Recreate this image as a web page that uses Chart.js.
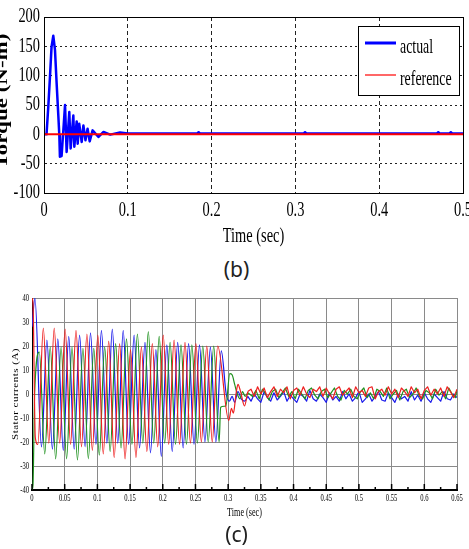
<!DOCTYPE html>
<html>
<head>
<meta charset="utf-8">
<script src="https://cdn.jsdelivr.net/npm/chart.js@4.4.0/dist/chart.umd.min.js"></script>
<style>
body { margin: 0; background: #fff; width: 469px; height: 549px; position: relative; overflow: hidden; }
#torque { position: absolute; left: 0; top: 0; }
#currents { position: absolute; left: 0; top: 280px; }
.cap { position: absolute; left: 2px; width: 469px; text-align: center; font-family: "Noto Sans", sans-serif; font-size: 21px; color: #222; line-height: 1; }
</style>
</head>
<body>
<canvas id="torque" width="469" height="250"></canvas>
<div class="cap" style="top:259px;">(b)</div>
<canvas id="currents" width="469" height="245"></canvas>
<div class="cap" style="top:524px;">(c)</div>
<script>
// (b) torque
var torqueT = [0, 0.003, 0.0052, 0.0072, 0.009, 0.0111, 0.0131, 0.015, 0.0171, 0.0183, 0.019, 0.021, 0.0251, 0.027, 0.0302, 0.0318, 0.035, 0.0362, 0.039, 0.0402, 0.042, 0.045, 0.047, 0.0495, 0.052, 0.0545, 0.058, 0.065, 0.071, 0.079, 0.0907, 0.1, 0.183, 0.1845, 0.186, 0.31, 0.3115, 0.313, 0.469, 0.4705, 0.472, 0.484, 0.4855, 0.487, 0.5];
var torqueV = [0, 0, 49, 100, 149, 168, 144, 89, 32, -2, -38, -37, 50, -30, 38, -24, 32, -21, 22, -16, 18, -13, 15, -10, 9.6, -12, 6.8, -4.5, 4, -0.5, 3, 1.5, 1.5, 3.5, 1.5, 1.5, 3.5, 1.5, 1.5, 3.5, 1.5, 1.5, 3.5, 1.5, 1.5];
var refT = [0, 0.5];
var refV = [0, 0];
var torqueXTicks = [0, 0.1, 0.2, 0.3, 0.4, 0.5];
var torqueYTicks = [-100, -50, 0, 50, 100, 150, 200];

// (c) stator currents, one array per phase up to ~0.33 s
var redT = [0, 0.0015, 0.005, 0.009, 0.0173, 0.0257, 0.034, 0.0423, 0.0507, 0.059, 0.0673, 0.0757, 0.084, 0.0923, 0.1007, 0.109, 0.1173, 0.1257, 0.134, 0.1423, 0.1507, 0.159, 0.1673, 0.1757, 0.184, 0.1923, 0.2007, 0.209, 0.2173, 0.2257, 0.234, 0.2423, 0.2507, 0.259, 0.2673, 0.2757, 0.284, 0.301, 0.305, 0.308, 0.312, 0.315, 0.319, 0.325, 0.33];
var redV = [40, 38, -18, -21, 27.5, -20.5, 27.5, -20.5, 27, -21, 26.5, -22, 25, -23.5, 24.5, -25, 22, -26.5, 21, -27, 18.5, -26.5, 19.5, -24, 21, -22, 24.5, -21, 22.5, -21, 21.5, -20.5, 21, -20, 20, -20, 20, -11, -6, -8, 0, 4, 1, -5, 1];
var greenT = [0, 0.0015, 0.004, 0.0112, 0.0195, 0.0279, 0.0362, 0.0445, 0.0529, 0.0612, 0.0695, 0.0779, 0.0862, 0.0945, 0.1029, 0.1112, 0.1195, 0.1279, 0.1362, 0.1445, 0.1529, 0.1612, 0.1695, 0.1779, 0.1862, 0.1945, 0.2029, 0.2112, 0.2195, 0.2279, 0.2362, 0.2445, 0.2529, 0.2612, 0.2695, 0.2779, 0.2862, 0.2885, 0.2965, 0.3025, 0.306, 0.31, 0.314, 0.318, 0.322, 0.326, 0.33];
var greenV = [-40, -38, 0, 17.5, -25, 19.5, -27, 19.5, -27, 19.5, -27.5, 19, -27, 19, -25.5, 19.5, -24, 21, -22.5, 23, -21, 25, -20.5, 26, -20.5, 24, -20.5, 21.5, -21, 20.5, -21, 20.5, -20.5, 20, -20, 20, -20, -5.5, -5, 8.5, 8, 4, 0, -2, 1, -1, 0.5];
var blueT = [0, 0.0045, 0.0145, 0.0228, 0.0312, 0.0395, 0.0478, 0.0562, 0.0645, 0.0728, 0.0812, 0.0895, 0.0978, 0.1062, 0.1145, 0.1228, 0.1312, 0.1395, 0.1478, 0.1562, 0.1645, 0.1728, 0.1812, 0.1895, 0.1978, 0.2062, 0.2145, 0.2228, 0.2312, 0.2395, 0.2478, 0.2562, 0.2645, 0.2728, 0.2812, 0.2895, 0.297, 0.302, 0.306, 0.31, 0.315, 0.32, 0.325, 0.33];
var blueV = [28, 40, -22, 22.5, -23, 23, -23.5, 24, -23, 24.5, -22, 25.5, -21, 26.5, -20.5, 27, -20.5, 26.5, -21, 24.5, -22.5, 21.5, -24.5, 18.5, -26, 20.5, -24, 21.5, -22.5, 21, -21, 20.5, -20, 19.5, -20, 18, 0, -3, -1, -3.5, 1, -2, -3, -1];

// steady state ripple after 0.33 s (green sampled half a step later)
var ssT = [0.335, 0.34, 0.345, 0.35, 0.355, 0.36, 0.365, 0.37, 0.375, 0.38, 0.385, 0.39, 0.395, 0.4, 0.405, 0.41, 0.415, 0.42, 0.425, 0.43, 0.435, 0.44, 0.445, 0.45, 0.455, 0.46, 0.465, 0.47, 0.475, 0.48, 0.485, 0.49, 0.495, 0.5, 0.505, 0.51, 0.515, 0.52, 0.525, 0.53, 0.535, 0.54, 0.545, 0.55, 0.555, 0.56, 0.565, 0.57, 0.575, 0.58, 0.585, 0.59, 0.595, 0.6, 0.605, 0.61, 0.615, 0.62, 0.625, 0.63, 0.635, 0.64, 0.645, 0.65];
var ssT2 = [0.3375, 0.3425, 0.3475, 0.3525, 0.3575, 0.3625, 0.3675, 0.3725, 0.3775, 0.3825, 0.3875, 0.3925, 0.3975, 0.4025, 0.4075, 0.4125, 0.4175, 0.4225, 0.4275, 0.4325, 0.4375, 0.4425, 0.4475, 0.4525, 0.4575, 0.4625, 0.4675, 0.4725, 0.4775, 0.4825, 0.4875, 0.4925, 0.4975, 0.5025, 0.5075, 0.5125, 0.5175, 0.5225, 0.5275, 0.5325, 0.5375, 0.5425, 0.5475, 0.5525, 0.5575, 0.5625, 0.5675, 0.5725, 0.5775, 0.5825, 0.5875, 0.5925, 0.5975, 0.6025, 0.6075, 0.6125, 0.6175, 0.6225, 0.6275, 0.6325, 0.6375, 0.6425, 0.6475, 0.65];
var ssRed = [2, -1, 3, 0, 2.5, -1.5, 1, 3, -1, 2, 0.5, 3, -2, 1.5, 2.5, -0.5, 3, 0, -1.5, 2, 1, 3, -1, 2.5, 0, -2, 2, 3, -0.5, 1, 2.5, -1.5, 3, 0.5, 1.5, -1, 2.5, 3, -2, 1, 2, -0.5, 3, 0, 2, -1.5, 2.5, 1, -1, 3, 0.5, 2, -2, 1.5, 3, -0.5, 2, 0, 2.5, -1, 3, 1, -1.5, 2];
var ssGreen = [-1, 1.5, -2, 2, 0, -2.5, 1, 2, -1.5, 0.5, 2.5, -1, 1, -2, 2, 0, -2, 1.5, 2.5, -0.5, -2, 1, 2, -1.5, 0.5, 2.5, -1, -2.5, 1.5, 0, 2, -1, -2, 1, 2.5, -1.5, 0.5, -2, 2, 1, -1, 2.5, -2, 0, 1.5, -2.5, 1, 2, -1.5, 0, 2.5, -1, -2, 1.5, 0.5, -2, 2, -0.5, 1, -2, 2.5, 0, -1.5, 1.5];
var ssBlue = [-3, 0, -2, -3.5, 1, -1.5, -3, 0.5, -2.5, -1, 1, -3, -0.5, -2, -3.5, 0, -1, -3, 1.5, -2, -3, 0, -1.5, -3.5, 0.5, -2.5, -1, -3, 1, -2, 0, -3, -1.5, 1, -3.5, -2, 0, -3, -1, 1, -2.5, -3, 0.5, -1.5, -3.5, 0, -2, -1, -3, 1, -2.5, -0.5, -3, 0.5, -2, -3.5, 0, -1.5, -3, 1, -2, -2.5, 0, -1.5];
var currXTicks = [0, 0.05, 0.1, 0.15, 0.2, 0.25, 0.3, 0.35, 0.4, 0.45, 0.5, 0.55, 0.6, 0.65];
var currYTicks = [-40, -30, -20, -10, 0, 10, 20, 30, 40];

function pts(ts, vs) {
    return ts.map(function(t, i) { return {x: t, y: vs[i]}; });
}

// steady part starts from the last transient point so the line is continuous
function tail(ts, vs, sT, sV) {
    return pts(ts.slice(-1), vs.slice(-1)).concat(pts(sT, sV));
}

// the source figure is horizontally squeezed, so text is drawn narrowed
function squeezed(ctx, text, x, y, font, sx, align) {
    ctx.save();
    ctx.font = font;
    ctx.fillStyle = '#000';
    ctx.textAlign = align;
    ctx.textBaseline = 'middle';
    ctx.translate(x, y);
    ctx.scale(sx, 1);
    ctx.fillText(text, 0, 0);
    ctx.restore();
}

var torqueText = {
    id: 'torqueText',
    afterDraw: function(chart) {
        var ctx = chart.ctx, a = chart.chartArea, xs = chart.scales.x, ys = chart.scales.y;
        var f = '20px "Liberation Serif"';
        ctx.save();
        ctx.strokeStyle = '#000';
        ctx.lineWidth = 1;
        ctx.strokeRect(a.left + 0.5, a.top + 0.5, a.right - a.left, a.bottom - a.top);
        ctx.restore();
        torqueYTicks.forEach(function(v) {
            squeezed(ctx, String(v), a.left - 4, ys.getPixelForValue(v), f, 0.72, 'right');
        });
        torqueXTicks.forEach(function(v) {
            squeezed(ctx, String(v), xs.getPixelForValue(v), a.bottom + 18, f, 0.72, 'center');
        });
        squeezed(ctx, 'Time (sec)', (a.left + a.right) / 2, a.bottom + 44, f, 0.72, 'center');

        ctx.save();
        ctx.font = 'bold 23px "Liberation Serif"';
        ctx.fillStyle = '#000';
        ctx.translate(7, 101);
        ctx.scale(0.72, 1);
        ctx.rotate(-Math.PI / 2);
        ctx.textAlign = 'center';
        ctx.textBaseline = 'alphabetic';
        ctx.fillText('Torque (N-m)', 0, 0);
        ctx.restore();

        // legend box
        var lx = a.right - 105, ly = a.top + 9;
        ctx.save();
        ctx.fillStyle = '#fff';
        ctx.fillRect(lx, ly, 101, 69);
        ctx.strokeStyle = '#000';
        ctx.lineWidth = 1;
        ctx.strokeRect(lx + 0.5, ly + 0.5, 101, 69);
        var widths = [3, 1.2];
        chart.data.datasets.forEach(function(ds, i) {
            var yy = ly + 17 + i * 32;
            ctx.strokeStyle = ds.borderColor;
            ctx.lineWidth = widths[i];
            ctx.beginPath();
            ctx.moveTo(lx + 7, yy);
            ctx.lineTo(lx + 38, yy);
            ctx.stroke();
            ctx.save();
            ctx.font = '21px "Liberation Serif"';
            ctx.fillStyle = '#000';
            ctx.textBaseline = 'alphabetic';
            ctx.translate(lx + 42, yy + 10);
            ctx.scale(0.66, 1);
            ctx.fillText(ds.label, 0, 0);
            ctx.restore();
        });
        ctx.restore();
    }
};

var currText = {
    id: 'currText',
    afterDraw: function(chart) {
        var ctx = chart.ctx, a = chart.chartArea, xs = chart.scales.x, ys = chart.scales.y;
        var f = '11px "Liberation Serif"';
        ctx.save();
        ctx.strokeStyle = '#000';
        ctx.lineWidth = 1.5;
        for (var k = 0; k <= 26; k++) {
            var px = xs.getPixelForValue(k * 0.025);
            ctx.beginPath();
            ctx.moveTo(px, a.bottom);
            ctx.lineTo(px, a.bottom - (k % 2 ? 3 : 6));
            ctx.stroke();
        }
        ctx.restore();
        currYTicks.forEach(function(v) {
            squeezed(ctx, String(v), a.left - 3, ys.getPixelForValue(v), f, 0.6, 'right');
        });
        currXTicks.forEach(function(v) {
            squeezed(ctx, String(v), xs.getPixelForValue(v), a.bottom + 8, f, 0.6, 'center');
        });
        squeezed(ctx, 'Time (sec)', (a.left + a.right) / 2, a.bottom + 23, '12px "Liberation Serif"', 0.68, 'center');

        ctx.save();
        ctx.font = '11px "Liberation Serif"';
        ctx.letterSpacing = '0.5px';
        ctx.fillStyle = '#000';
        ctx.translate(18, (a.top + a.bottom) / 2);
        ctx.scale(0.8, 1);
        ctx.rotate(-Math.PI / 2);
        ctx.textAlign = 'center';
        ctx.textBaseline = 'alphabetic';
        ctx.fillText('Stator currents (A)', 0, 0);
        ctx.restore();
    }
};

// Chart b

new Chart(document.getElementById('torque'), {
    type: 'line',
    data: {
        datasets: [{
            label: 'actual',
            data: pts(torqueT, torqueV),
            borderColor: '#0000ff',
            borderWidth: 2.5,
            borderJoinStyle: 'round',
            pointRadius: 0,
            order: 1
        }, {
            label: 'reference',
            data: pts(refT, refV),
            borderColor: '#ff0000',
            borderWidth: 2,
            pointRadius: 0,
            order: 0
        }]
    },
    options: {
        responsive: false,
        animation: false,
        layout: { padding: { top: 17, right: 6, left: 0, bottom: 0 }, autoPadding: false },
        plugins: { legend: { display: false }, tooltip: { enabled: false } },
        scales: {
            x: {
                type: 'linear', min: 0, max: 0.5,
                afterBuildTicks: function(s) { s.ticks = torqueXTicks.map(function(v) { return {value: v}; }); },
                afterFit: function(s) { s.height = 57; },
                ticks: { display: false },
                grid: { color: '#222', lineWidth: 1, drawTicks: false },
                border: { color: '#000', width: 1, dash: [4, 3] }
            },
            y: {
                min: -100, max: 200,
                afterBuildTicks: function(s) { s.ticks = torqueYTicks.map(function(v) { return {value: v}; }); },
                afterFit: function(s) { s.width = 44; },
                ticks: { display: false },
                grid: { color: '#222', lineWidth: 1, drawTicks: false },
                border: { color: '#000', width: 1, dash: [2, 3] }
            }
        }
    },
    plugins: [torqueText]
});

// Chart c

var RED = 'rgb(238, 30, 30)', GREEN = 'rgb(30, 145, 30)', BLUE = 'rgb(25, 25, 235)';

new Chart(document.getElementById('currents'), {
    type: 'line',
    data: {
        datasets: [
            { label: 'ia', data: pts(redT, redV), borderColor: RED, order: 0, cubicInterpolationMode: 'monotone' },
            { label: 'ib', data: pts(greenT, greenV), borderColor: GREEN, order: 1, cubicInterpolationMode: 'monotone' },
            { label: 'ic', data: pts(blueT, blueV), borderColor: BLUE, order: 2, cubicInterpolationMode: 'monotone' },
            { label: 'ia ss', data: tail(redT, redV, ssT, ssRed), borderColor: RED, order: 0 },
            { label: 'ib ss', data: tail(greenT, greenV, ssT2, ssGreen), borderColor: GREEN, order: 1 },
            { label: 'ic ss', data: tail(blueT, blueV, ssT, ssBlue), borderColor: BLUE, order: 2 }
        ]
    },
    options: {
        responsive: false,
        animation: false,
        datasets: { line: { borderWidth: 1.2, borderJoinStyle: 'round', pointRadius: 0, tension: 0 } },
        layout: { padding: { top: 18, right: 12, left: 0, bottom: 0 }, autoPadding: false },
        plugins: { legend: { display: false }, tooltip: { enabled: false } },
        scales: {
            x: {
                type: 'linear', min: 0, max: 0.65,
                afterBuildTicks: function(s) { s.ticks = currXTicks.map(function(v) { return {value: v}; }); },
                afterFit: function(s) { s.height = 35; },
                ticks: { display: false },
                grid: { color: '#8a8a8a', lineWidth: 1, drawTicks: false },
                border: { color: '#000', width: 2 }
            },
            y: {
                min: -40, max: 40,
                afterBuildTicks: function(s) { s.ticks = currYTicks.map(function(v) { return {value: v}; }); },
                afterFit: function(s) { s.width = 32; },
                ticks: { display: false },
                grid: { color: '#8a8a8a', lineWidth: 1, drawTicks: false },
                border: { color: '#000', width: 1 }
            }
        }
    },
    plugins: [currText]
});
</script>
</body>
</html>
